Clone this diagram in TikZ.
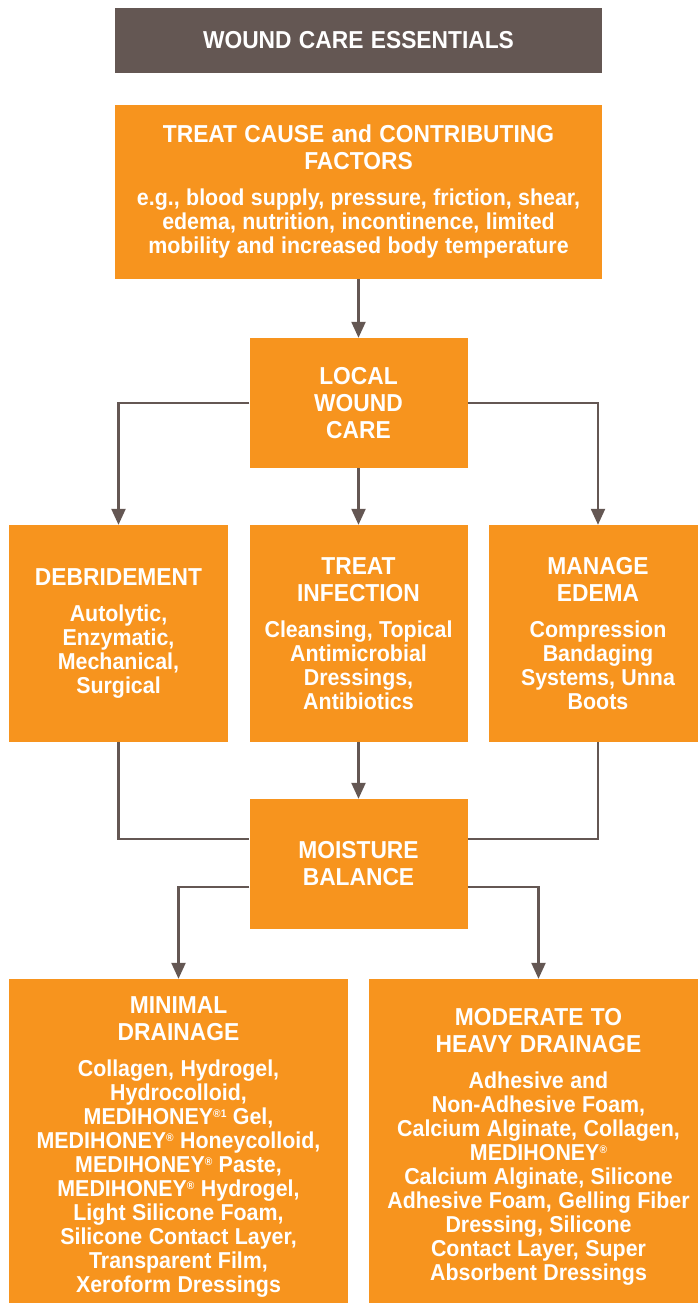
\documentclass[tikz,border=0pt]{standalone}
\usepackage{fontspec}
\setmainfont{Liberation Sans}[FakeStretch=0.93]
\usetikzlibrary{arrows.meta}
\definecolor{wcorange}{RGB}{247,148,30}
\definecolor{wcgrey}{RGB}{100,87,83}
\newcommand{\boxhead}{\fontsize{24.5}{27}\selectfont\bfseries\spaceskip=0.3em\relax}
\newcommand{\boxbody}{\fontsize{23}{24}\selectfont\bfseries\spaceskip=0.28em\relax}
\newcommand{\regsup}[1]{\raisebox{0.55ex}{\fontsize{11}{11}\selectfont #1}}

\begin{document}
\begin{tikzpicture}[x=1pt,y=1pt,
  box/.style={fill=wcorange,text=white,inner sep=0pt,align=center},
  link/.style={wcgrey,line width=2.3pt},
  >={Triangle[length=16pt,width=14pt]}]
\useasboundingbox (0,0) rectangle (698,-1303);
\node[box,fill=wcgrey,minimum width=487pt,minimum height=65pt,text width=480pt] (title) at (358.5,-40.5) {\boxhead WOUND CARE ESSENTIALS\par};
\node[box,minimum width=487pt,minimum height=174pt,text width=480pt] (cause) at (358.5,-192) {{\boxhead TREAT CAUSE and CONTRIBUTING\\FACTORS\par}\vspace{12pt}{\boxbody e.g., blood supply, pressure, friction, shear,\\edema, nutrition, incontinence, limited\\mobility and increased body temperature\par}};
\node[box,minimum width=218pt,minimum height=130pt,text width=210pt] (local) at (358.5,-403) {\boxhead LOCAL\\WOUND\\CARE\par};
\node[box,minimum width=219pt,minimum height=217pt,text width=211pt] (debr) at (118.5,-633.5) {{\boxhead DEBRIDEMENT\par}\vspace{12pt}{\boxbody Autolytic,\\Enzymatic,\\Mechanical,\\Surgical\par}};
\node[box,minimum width=218pt,minimum height=217pt,text width=210pt] (infect) at (358.5,-633.5) {{\boxhead TREAT\\INFECTION\par}\vspace{12pt}{\boxbody Cleansing, Topical\\Antimicrobial\\Dressings,\\Antibiotics\par}};
\node[box,minimum width=218pt,minimum height=217pt,text width=210pt] (edema) at (598,-633.5) {{\boxhead MANAGE\\EDEMA\par}\vspace{12pt}{\boxbody Compression\\Bandaging\\Systems, Unna\\Boots\par}};
\node[box,minimum width=218pt,minimum height=130pt,text width=210pt] (moist) at (358.5,-864) {\boxhead MOISTURE\\BALANCE\par};
\node[box,minimum width=339pt,minimum height=336pt,text width=330pt] (minimal) at (178.5,-1147) {{\boxhead MINIMAL\\DRAINAGE\par}\vspace{12pt}{\boxbody Collagen, Hydrogel,\\Hydrocolloid,\\MEDIHONEY\regsup{®1} Gel,\\MEDIHONEY\regsup{®} Honeycolloid,\\MEDIHONEY\regsup{®} Paste,\\MEDIHONEY\regsup{®} Hydrogel,\\Light Silicone Foam,\\Silicone Contact Layer,\\Transparent Film,\\Xeroform Dressings\par}};
\node[box,minimum width=339pt,minimum height=336pt,text width=330pt] (moder) at (538.5,-1147) {{\boxhead MODERATE TO\\HEAVY DRAINAGE\par}\vspace{12pt}{\boxbody Adhesive and\\Non-Adhesive Foam,\\Calcium Alginate, Collagen,\\MEDIHONEY\regsup{®}\\Calcium Alginate, Silicone\\Adhesive Foam, Gelling Fiber\\Dressing, Silicone\\Contact Layer, Super\\Absorbent Dressings\par}};
\draw[link,->] (cause) -- (local);
\draw[link,->] (local) -- (infect);
\draw[link,->] (local.west) -| (debr);
\draw[link,->] (local.east) -| (edema);
\draw[link] (debr.south) |- ([yshift=25pt]moist.west);
\draw[link,->] (infect) -- (moist);
\draw[link] (edema.south) |- ([yshift=25pt]moist.east);
\draw[link,->] ([yshift=-23pt]moist.west) -| (minimal);
\draw[link,->] ([yshift=-23pt]moist.east) -| (moder);
\end{tikzpicture}
\end{document}
